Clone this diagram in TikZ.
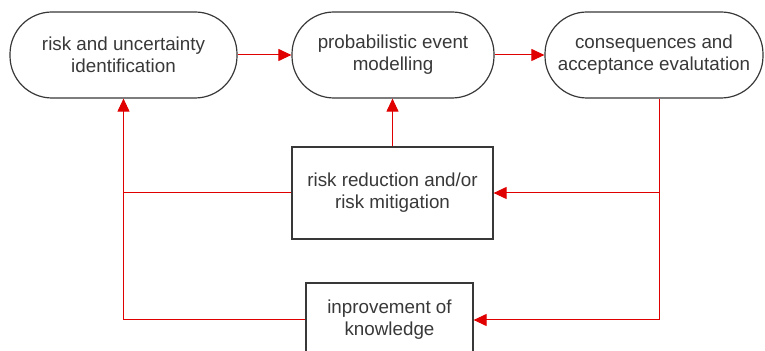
\documentclass[tikz,border=0pt]{standalone}
\usepackage{fontspec}
\setmainfont{Liberation Sans}
\usetikzlibrary{arrows.meta,positioning,calc}
\definecolor{flowred}{HTML}{E00000}
\definecolor{boxgray}{HTML}{383838}
\tikzset{
  flow/stage/.style={draw=boxgray, line width=0.6pt, rounded corners=21pt, minimum height=43pt, inner sep=2pt, align=center, text=boxgray, font=\fontsize{9.4}{11}\selectfont},
  flow/action/.style={draw=boxgray, line width=0.6pt, inner sep=2pt, align=center, text=boxgray, font=\fontsize{9.4}{11}\selectfont},
  flow/line/.style={draw=flowred, line width=0.5pt},
  flow/arr/.style={flow/line, -{Triangle[length=6.5pt,width=6pt]}}
}

\begin{document}
\begin{tikzpicture}[x=0.5pt, y=-0.5pt]
  \useasboundingbox (0,0) rectangle (765,351);

  % top row
  \node[flow/stage, minimum width=113.5pt] (ident) at (123.5,55) {risk and uncertainty\\identification};
  \node[flow/stage, minimum width=101pt] (model) at (393,55) {probabilistic event\\modelling};
  \node[flow/stage, minimum width=109pt] (conseq) at (654,55) {consequences and\\acceptance evalutation};

  % feedback boxes
  \node[flow/action, minimum width=100.5pt, minimum height=46pt] (reduce) at (392.5,193) {risk reduction and/or\\risk mitigation};
  \node[flow/action, minimum width=83.5pt, minimum height=37pt] (improve) at (389.5,320) {inprovement of\\knowledge};

  \coordinate (cdrop) at ($(conseq.south)+(5,0)$);
  \coordinate (rmid) at (cdrop |- reduce.east);
  \coordinate (rlow) at (cdrop |- improve.east);
  \coordinate (lmid) at (ident.south |- reduce.west);
  \coordinate (llow) at (ident.south |- improve.west);

  \draw[flow/arr] (ident) -- (model);
  \draw[flow/arr] (model) -- (conseq);
  \draw[flow/arr] (reduce.north) -- (reduce.north |- model.south);

  \draw[flow/line] (cdrop) -- (rlow);
  \draw[flow/arr] (rmid) -- (reduce.east);
  \draw[flow/arr] (rlow) -- (improve.east);

  \draw[flow/line] (reduce.west) -- (lmid);
  \draw[flow/arr] (improve.west) -- (llow) -- (ident.south);
\end{tikzpicture}
\end{document}
